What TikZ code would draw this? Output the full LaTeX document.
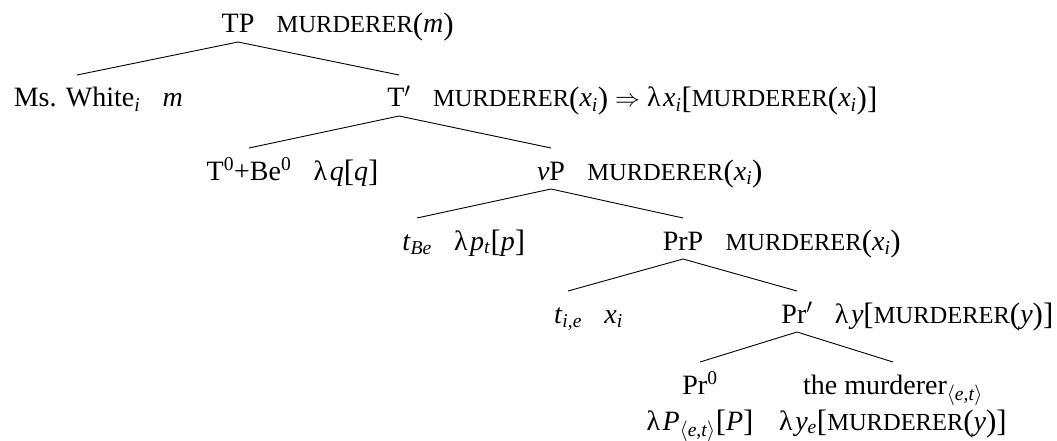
\documentclass[tikz,border=0pt]{standalone}
\usepackage{fontspec}
\setmainfont{Liberation Serif}
\newcommand\mv[1]{\textit{#1}}
\newcommand\SC[1]{{\fontsize{24.5}{26}\selectfont #1}}
\newcommand\MUR{\SC{MURDERER}}
\newcommand\xsubi{\mv{x}\textsubscript{\mv{i}}}
\newcommand\lam{λ\kern2.5pt}
\newcommand\bigdelim[1]{\raisebox{-1.5pt}{\fontsize{31}{34}\selectfont #1}}
\newcommand\LP{\bigdelim{(}}
\newcommand\RP{\bigdelim{)}}
\newcommand\LB{\bigdelim{[}}
\newcommand\RB{\bigdelim{]}}
\newcommand\etsub{\textsubscript{$\langle$\mv{e},\mv{t}$\rangle$}}
\tikzset{
  cat/.style={inner sep=0pt, anchor=base, font=\fontsize{28}{34}\selectfont},
  sem/.style={inner sep=0pt, anchor=base west, font=\fontsize{28}{34}\selectfont},
  semb/.style={inner sep=0pt, anchor=base, font=\fontsize{28}{34}\selectfont},
  branch/.style={line width=0.9pt, black}
}
\begin{document}
\begin{tikzpicture}[x=1pt,y=-1pt]
\useasboundingbox (0,0) rectangle (1057,441);
% categories
\node[cat] (TP)  at (238,33)  {TP};
\node[cat] (MW)  at (77,107)  {Ms. White\textsubscript{\mv{i}}};
\node[cat] (Tb)  at (399,107) {T$'$};
\node[cat] (T0)  at (249,180) {T\textsuperscript{0}+Be\textsuperscript{0}};
\node[cat] (vP)  at (551,180) {\mv{v}P};
\node[cat] (tBe) at (417,250) {\mv{t}\textsubscript{\mv{Be}}};
\node[cat] (PrP) at (683,250) {PrP};
\node[cat] (tie) at (568,323) {\mv{t}\textsubscript{\mv{i},\mv{e}}};
\node[cat] (Prb) at (797,323) {Pr$'$};
\node[cat] (Pr0) at (700,394) {Pr\textsuperscript{0}};
\node[cat] (mur) at (893,394) {the murderer\etsub};
% semantic values
\node[sem] (TPs)  at ([xshift=22pt]TP.base east)  {\MUR\LP\mv{m}\RP};
\node[sem] (MWs)  at ([xshift=22pt]MW.base east)  {\mv{m}};
\node[sem] (Tbs)  at ([xshift=22pt]Tb.base east)  {\MUR\LP\xsubi\RP{} $\Rightarrow$ \lam\xsubi\LB\MUR\LP\xsubi\RP\RB};
\node[sem] (T0s)  at ([xshift=22pt]T0.base east)  {\lam\mv{q}\LB\mv{q}\RB};
\node[sem] (vPs)  at ([xshift=22pt]vP.base east)  {\MUR\LP\xsubi\RP};
\node[sem] (tBes) at ([xshift=22pt]tBe.base east) {\lam\mv{p}\textsubscript{\mv{t}}\LB\mv{p}\RB};
\node[sem] (PrPs) at ([xshift=22pt]PrP.base east) {\MUR\LP\xsubi\RP};
\node[sem] (ties) at ([xshift=22pt]tie.base east) {\xsubi};
\node[sem] (Prbs) at ([xshift=22pt]Prb.base east) {\lam\mv{y}\LB\MUR\LP\mv{y}\RP\RB};
\node[semb] (Pr0s) at (700,430) {\lam\mv{P}\etsub\LB\mv{P}\RB};
\node[semb] (murs) at (893,430) {\lam\mv{y}\textsubscript{\mv{e}}\LB\MUR\LP\mv{y}\RP\RB};
% branches
\draw[branch] ([yshift=32pt]MW.base)  -- ([yshift=-9pt]TP.base)  -- ([yshift=32pt]Tb.base);
\draw[branch] ([yshift=32pt]T0.base)  -- ([yshift=-9pt]Tb.base)  -- ([yshift=32pt]vP.base);
\draw[branch] ([yshift=32pt]tBe.base) -- ([yshift=-9pt]vP.base)  -- ([yshift=32pt]PrP.base);
\draw[branch] ([yshift=32pt]tie.base) -- ([yshift=-9pt]PrP.base) -- ([yshift=32pt]Prb.base);
\draw[branch] ([yshift=32pt]Pr0.base) -- ([yshift=-9pt]Prb.base) -- ([yshift=32pt]mur.base);
\end{tikzpicture}
\end{document}
